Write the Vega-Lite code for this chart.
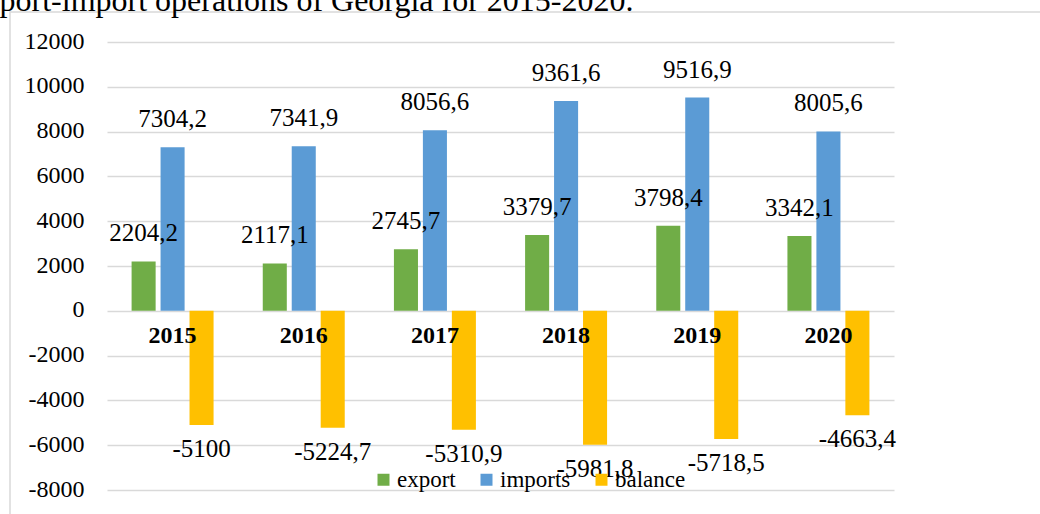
{
  "$schema": "https://vega.github.io/schema/vega-lite/v6.json",
  "width": 1040,
  "height": 520,
  "autosize": {"type": "none"},
  "padding": {"left": 10, "top": 12, "right": 0, "bottom": 0},
  "background": "white",
  "title": {
    "text": "Export-import operations of Georgia for 2015-2020.",
    "anchor": "start",
    "frame": "group",
    "font": "Liberation Serif",
    "fontSize": 32,
    "fontWeight": "normal",
    "color": "black",
    "baseline": "alphabetic",
    "offset": -31,
    "dx": -46
  },
  "config": {
    "locale": {"number": {"decimal": ",", "thousands": "", "grouping": [3], "currency": ["", ""], "minus": "-"}},
    "view": {"stroke": "#d9d9d9", "strokeWidth": 1.5},
    "font": "Liberation Serif"
  },
  "data": {
    "values": [
      {"year": "2015", "type": "export", "value": 2204.2},
      {"year": "2015", "type": "imports", "value": 7304.2},
      {"year": "2015", "type": "balance", "value": -5100},
      {"year": "2016", "type": "export", "value": 2117.1},
      {"year": "2016", "type": "imports", "value": 7341.9},
      {"year": "2016", "type": "balance", "value": -5224.7},
      {"year": "2017", "type": "export", "value": 2745.7},
      {"year": "2017", "type": "imports", "value": 8056.6},
      {"year": "2017", "type": "balance", "value": -5310.9},
      {"year": "2018", "type": "export", "value": 3379.7},
      {"year": "2018", "type": "imports", "value": 9361.6},
      {"year": "2018", "type": "balance", "value": -5981.8},
      {"year": "2019", "type": "export", "value": 3798.4},
      {"year": "2019", "type": "imports", "value": 9516.9},
      {"year": "2019", "type": "balance", "value": -5718.5},
      {"year": "2020", "type": "export", "value": 3342.1},
      {"year": "2020", "type": "imports", "value": 8005.6},
      {"year": "2020", "type": "balance", "value": -4663.4}
    ]
  },
  "encoding": {
    "x": {
      "field": "year",
      "type": "nominal",
      "scale": {"range": [97, 884], "paddingInner": 0.375, "paddingOuter": 0.1875},
      "axis": null
    }
  },
  "layer": [
    {
      "mark": {"type": "bar"},
      "encoding": {
        "xOffset": {"field": "type", "type": "nominal", "scale": {"domain": ["export", "imports", "balance"], "paddingInner": 0.17, "paddingOuter": 0}},
        "y": {
          "field": "value",
          "type": "quantitative",
          "scale": {"domain": [-8000, 12000], "range": [478, 30], "nice": false, "zero": true},
          "axis": {
            "values": [-8000, -6000, -4000, -2000, 0, 2000, 4000, 6000, 8000, 10000, 12000],
            "format": "d",
            "labelFont": "Liberation Serif",
            "labelFontSize": 24,
            "labelColor": "black",
            "labelPadding": -74,
            "labelOffset": -1,
            "tickSize": 0,
            "ticks": false,
            "domain": false,
            "grid": true,
            "gridColor": "#d9d9d9",
            "gridWidth": 1.5,
            "title": null
          }
        },
        "color": {
          "field": "type",
          "type": "nominal",
          "scale": {"domain": ["export", "imports", "balance"], "range": ["#70AD47", "#5B9BD5", "#FFC000"]},
          "legend": {
            "title": null,
            "orient": "none",
            "direction": "horizontal",
            "legendX": 362,
            "legendY": 456,
            "padding": 0,
            "symbolType": "square",
            "symbolSize": 144,
            "symbolStrokeWidth": 0,
            "labelFont": "Liberation Serif",
            "labelFontSize": 23,
            "labelColor": "black",
            "labelOffset": 2,
            "columnPadding": 19
          }
        }
      }
    },
    {
      "transform": [{"filter": "datum.value >= 0"}],
      "mark": {"type": "text", "baseline": "alphabetic", "dy": -20, "fontSize": 25, "font": "Liberation Serif", "color": "black"},
      "encoding": {
        "xOffset": {"field": "type", "type": "nominal"},
        "y": {"field": "value", "type": "quantitative"},
        "text": {"field": "value", "type": "quantitative", "format": ".1~f"}
      }
    },
    {
      "transform": [{"filter": "datum.value < 0"}],
      "mark": {"type": "text", "baseline": "alphabetic", "dy": 32, "fontSize": 25, "font": "Liberation Serif", "color": "black"},
      "encoding": {
        "xOffset": {"field": "type", "type": "nominal"},
        "y": {"field": "value", "type": "quantitative"},
        "text": {"field": "value", "type": "quantitative", "format": ".1~f"}
      }
    },
    {
      "transform": [{"filter": "datum.type === 'export'"}],
      "mark": {"type": "text", "baseline": "alphabetic", "dy": 32, "fontSize": 24, "fontWeight": "bold", "font": "Liberation Serif", "color": "black"},
      "encoding": {
        "y": {"datum": 0, "type": "quantitative"},
        "text": {"field": "year", "type": "nominal"}
      }
    }
  ]
}
